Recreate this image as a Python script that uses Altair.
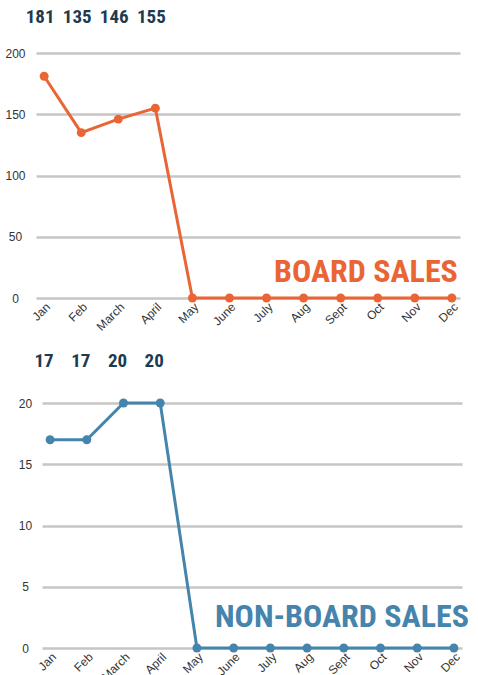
import altair as alt
import pandas as pd

months = ["Jan", "Feb", "March", "April", "May", "June", "July", "Aug", "Sept", "Oct", "Nov", "Dec"]
board_sales = [181, 135, 146, 155, 0, 0, 0, 0, 0, 0, 0, 0]
nonboard_sales = [17, 17, 20, 20, 0, 0, 0, 0, 0, 0, 0, 0]
board_ticks = [0, 50, 100, 150, 200]
nonboard_ticks = [0, 5, 10, 15, 20]
board_title = "BOARD SALES"
nonboard_title = "NON-BOARD SALES"

ORANGE = "#EA6535"
BLUE = "#4584AC"
DARK = "#1D3B50"
GRID = "#C6C6C6"
NARROW = "'Roboto Condensed', 'DejaVu Sans Condensed', 'Liberation Sans Narrow', Roboto, sans-serif"
SANS = "Liberation Sans"


def panel(values, ticks, color, title, title_y, width, label_pad, title_dx, num_y, num_dx):
    df = pd.DataFrame({"month": months, "value": values})
    x = alt.X("month:N", sort=months,
              scale=alt.Scale(type="point", padding=0.22),
              axis=alt.Axis(title=None, labelAngle=-45, ticks=False, domain=False,
                            grid=False, labelFont=SANS, labelFontSize=12,
                            labelColor="#333333", labelPadding=3))
    y = alt.Y("value:Q", scale=alt.Scale(domain=[ticks[0], ticks[-1]]),
              axis=alt.Axis(title=None, values=ticks, ticks=False, domain=False,
                            labelAlign="center", labelPadding=label_pad,
                            labelFont=SANS, labelFontSize=12, labelColor="#333333",
                            gridColor=GRID, gridWidth=2.5))
    base = alt.Chart(df).encode(x=x, y=y)
    line = base.mark_line(color=color, strokeWidth=3)
    pts = base.mark_circle(color=color, size=80, opacity=1)
    nums = alt.Chart(df).transform_filter("datum.value > 0").mark_text(
        font=NARROW, fontWeight="bold", fontSize=19, color=DARK,
        baseline="alphabetic", dx=num_dx
    ).encode(x=alt.X("month:N", sort=months), y=alt.value(num_y), text="value:Q")
    tdf = pd.DataFrame({"month": [months[-1]], "value": [title_y], "label": [title]})
    ttl = alt.Chart(tdf).mark_text(
        font=NARROW, fontWeight="bold", fontSize=32, color=color,
        align="right", baseline="alphabetic", dx=title_dx
    ).encode(x=alt.X("month:N", sort=months), y=alt.Y("value:Q"), text="label:N")
    return alt.layer(line, pts, nums, ttl).properties(width=width, height=245)


top = panel(board_sales, board_ticks, ORANGE, board_title, 13, 424, 21, 6, -30, -4)
bottom = panel(nonboard_sales, nonboard_ticks, BLUE, nonboard_title, 1.7, 420, 17, 15, -36, -6)

spacer = alt.Chart(pd.DataFrame({"a": [0]})).mark_point(opacity=0).encode(
    x=alt.value(0), y=alt.value(0)
).properties(width=6, height=245)

bottom_row = alt.hconcat(spacer, bottom, spacing=0, bounds="flush")

chart = alt.vconcat(top, bottom_row, spacing=19).configure_view(
    stroke=None
).properties(padding={"left": 4, "top": 8, "right": 5, "bottom": 5})

chart.save("out.html", embed_options={"renderer": "svg", "actions": False})
